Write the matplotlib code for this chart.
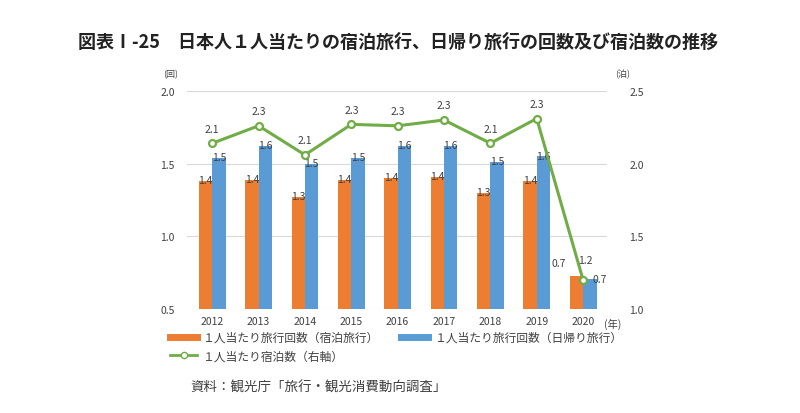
import matplotlib.pyplot as plt
from matplotlib.lines import Line2D

plt.rcParams['font.family'] = ['Noto Sans CJK JP', 'DejaVu Sans']

years = ['2012', '2013', '2014', '2015', '2016', '2017', '2018', '2019', '2020']
stay_trips = [1.38, 1.39, 1.27, 1.39, 1.40, 1.41, 1.30, 1.38, 0.73]
day_trips = [1.54, 1.62, 1.50, 1.54, 1.62, 1.62, 1.51, 1.55, 0.71]
nights = [2.14, 2.26, 2.06, 2.27, 2.26, 2.30, 2.14, 2.31, 1.20]

orange = '#ED7D31'
blue = '#5B9BD5'
green = '#70AD47'
txt = '#404040'

fig = plt.figure(figsize=(8, 4.14), dpi=100)
ax = fig.add_axes([0.234, 0.251, 0.525, 0.527])
ax2 = ax.twinx()

x = list(range(len(years)))
w = 0.29
ax.bar([i - w / 2 for i in x], stay_trips, width=w, color=orange, zorder=2)
ax.bar([i + w / 2 for i in x], day_trips, width=w, color=blue, zorder=2)
ax2.plot(x, nights, color=green, lw=2.2, marker='o', ms=5,
         mfc='white', mec=green, mew=1.6, zorder=3)

ax.set_xlim(-0.54, 8.52)
ax.set_ylim(0.5, 2.0)
ax.set_yticks([0.5, 1.0, 1.5, 2.0])
ax.set_yticklabels(['0.5', '1.0', '1.5', '2.0'])
ax2.set_ylim(1.0, 2.5)
ax2.set_yticks([1.0, 1.5, 2.0, 2.5])
ax2.set_yticklabels(['1.0', '1.5', '2.0', '2.5'])
ax.set_xticks(x)
ax.set_xticklabels(years)

ax.grid(axis='y', color='#d9d9d9', lw=0.8, zorder=0)
ax.set_axisbelow(True)
for a in (ax, ax2):
    for s in a.spines.values():
        s.set_visible(False)
    a.tick_params(length=0, labelsize=7.5, colors=txt)
ax.tick_params(axis='x', pad=5)
ax.tick_params(axis='y', pad=9)
ax2.tick_params(axis='y', pad=16)

# data labels
for i in x:
    if i < 8:
        ax.text(i - w / 2, stay_trips[i] + 0.005, f'{stay_trips[i]:.1f}', ha='center', va='center',
                fontsize=7.5, color=txt, zorder=4)
        ax.text(i + w / 2, day_trips[i] + 0.005, f'{day_trips[i]:.1f}', ha='center', va='center',
                fontsize=7.5, color=txt, zorder=4)
        ax2.text(i, nights[i] + 0.1, f'{nights[i]:.1f}', ha='center', va='center',
                 fontsize=7.5, color=txt, zorder=4)
    else:
        ax.text(i - 0.52, stay_trips[i] + 0.09, f'{stay_trips[i]:.1f}', ha='center', va='center',
                fontsize=7.5, color=txt, zorder=4)
        ax.text(i + 0.2, day_trips[i] + 0.0, f'{day_trips[i]:.1f}', ha='left', va='center',
                fontsize=7.5, color=txt, zorder=4)
        ax2.text(i + 0.05, nights[i] + 0.14, f'{nights[i]:.1f}', ha='center', va='center',
                 fontsize=7.5, color=txt, zorder=4)

fig.text(171 / 800, 1 - 75 / 414, '(回)', fontsize=6.5, color=txt, ha='center', va='center')
fig.text(623 / 800, 1 - 75 / 414, '(泊)', fontsize=6.5, color=txt, ha='center', va='center')
fig.text(604 / 800, 1 - 324 / 414, '(年)', fontsize=7.5, color=txt, ha='left', va='center')

fig.text(78 / 800, 1 - 42 / 414, '図表Ⅰ-25　日本人１人当たりの宿泊旅行、日帰り旅行の回数及び宿泊数の推移',
         fontsize=13, fontweight='bold', color='#222222', ha='left', va='center')

handles = [
    Line2D([], [], color=orange, lw=5),
    Line2D([], [], color=green, lw=2, marker='o', ms=4.5, mfc='white', mec=green),
    Line2D([], [], color=blue, lw=5),
]
labels = ['１人当たり旅行回数（宿泊旅行）', '１人当たり宿泊数（右軸）', '１人当たり旅行回数（日帰り旅行）']
fig.legend(handles, labels, loc='upper left', bbox_to_anchor=(170 / 800, 1 - 332 / 414),
           ncol=2, frameon=False, fontsize=8.5, handlelength=2.3, handletextpad=0.45,
           columnspacing=1.9, labelspacing=0.45, borderpad=0, borderaxespad=0, labelcolor=txt)

fig.text(190 / 800, 1 - 388 / 414, '資料：観光庁「旅行・観光消費動向調査」', fontsize=9.7,
         color=txt, ha='left', va='center')

fig.savefig('out.png', dpi=100)
